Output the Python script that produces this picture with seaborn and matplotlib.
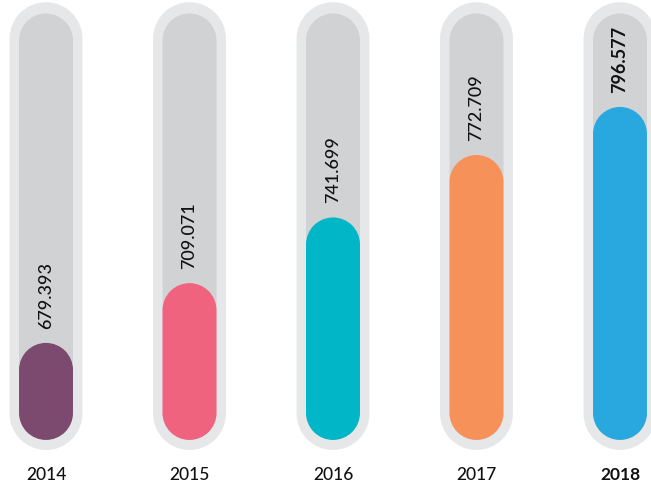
import numpy as np
import matplotlib
matplotlib.use("Agg")
import matplotlib.pyplot as plt
from matplotlib.path import Path
from matplotlib.patches import PathPatch
import seaborn as sns

# Data
years = ["2014", "2015", "2016", "2017", "2018"]
values = [679.393, 709.071, 741.699, 772.709, 796.577]
value_labels = ["679.393", "709.071", "741.699", "772.709", "796.577"]
colors = ["#7c4a6f", "#f0637f", "#00b6c7", "#f7915a", "#28a8df"]

# Track layout (in value units)
BASE = 631.2
INNER_TOP = 843.0
OUTER_BOTTOM, OUTER_TOP = 626.2, 848.6
BAR_W = 0.376
OUTER_W = 0.508

sns.set_style("white")
plt.rcParams["font.family"] = ["Lato", "DejaVu Sans"]

fig = plt.figure(figsize=(6.51, 4.96), dpi=100)
ax = fig.add_axes([0, 44 / 496, 1, 452 / 496])

sns.barplot(x=years, y=values, hue=years, palette=colors, legend=False,
            width=BAR_W, saturation=1, ax=ax)
ax.set_xlim(-0.3206, 4.216)
ax.set_ylim(625.2, 849.7)

# x-units -> y-units ratio so round ends are true circles
p0 = ax.transData.transform((0, 0))
p1 = ax.transData.transform((1, 1))
aspect = (p1[0] - p0[0]) / (p1[1] - p0[1])


def add_pill(cx, w, y0, y1, color):
    """Stadium shape (one path) from y0 to y1, width w."""
    rx, ry = w / 2, w / 2 * aspect
    top = Path.arc(0, 180)
    bot = Path.arc(180, 360)
    tv = top.vertices * [rx, ry] + [cx, y1 - ry]
    bv = bot.vertices * [rx, ry] + [cx, y0 + ry]
    verts = np.vstack([tv, bv, tv[:1]])
    codes = np.concatenate([top.codes, bot.codes, [Path.CLOSEPOLY]])
    codes[len(top.codes)] = Path.LINETO
    ax.add_patch(PathPatch(Path(verts, codes), fc=color, ec="none", lw=0))


bars = sorted(ax.patches, key=lambda p: p.get_x())
for i, p in enumerate(bars):
    cx = p.get_x() + p.get_width() / 2
    top = p.get_height()
    fc = p.get_facecolor()
    p.remove()

    add_pill(cx, OUTER_W, OUTER_BOTTOM, OUTER_TOP, "#e6e7e8")
    add_pill(cx, BAR_W, BASE, INNER_TOP, "#d1d2d4")
    add_pill(cx, BAR_W, BASE, top, fc)

    ax.text(cx, top + 7, value_labels[i], rotation=90, ha="center", va="bottom",
            fontsize=13, color="#111111",
            fontweight="bold" if i == len(bars) - 1 else "medium")

sns.despine(ax=ax, left=True, bottom=True)
ax.set_yticks([])
ax.set_xlabel("")
ax.set_ylabel("")
ax.tick_params(axis="x", length=0, pad=11, labelsize=12.5, labelcolor="#111111")
for lab in ax.get_xticklabels():
    lab.set_fontweight("medium")
ax.get_xticklabels()[-1].set_fontweight("bold")

fig.savefig("out.png", dpi=100)
